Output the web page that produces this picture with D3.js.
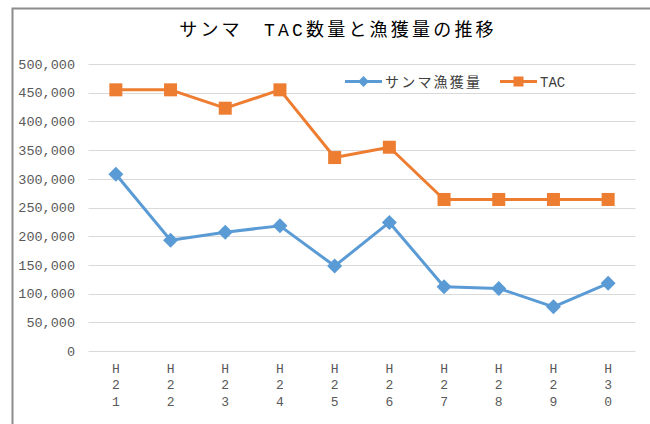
<!DOCTYPE html>
<html>
<head>
<meta charset="utf-8">
<script src="https://cdn.jsdelivr.net/npm/d3@7"></script>
<style>
  html, body { margin: 0; padding: 0; background: #fff; }
  svg { display: block; }
  text { font-family: "Liberation Mono", "Noto Sans CJK JP", monospace; }
</style>
</head>
<body>
<svg id="chart" width="650" height="424"></svg>
<script>
// Fiscal years (Heisei era)
const years = ["H21", "H22", "H23", "H24", "H25", "H26", "H27", "H28", "H29", "H30"];
// Saury catch (tonnes)
const catchValues = [308000, 193000, 207000, 218000, 148000, 224000, 112000, 109000, 77000, 118000];
// Total allowable catch (tonnes)
const tacValues = [455000, 455000, 423000, 455000, 337000, 355000, 264000, 264000, 264000, 264000];
const yTicks = [0, 50000, 100000, 150000, 200000, 250000, 300000, 350000, 400000, 450000, 500000];
const titleText = "サンマ　TAC数量と漁獲量の推移";
const seriesNames = ["サンマ漁獲量", "TAC"];

const blue = "#5B9BD5", orange = "#ED7D31";
const svg = d3.select("#chart");

// chart frame (left & top edges)
svg.append("path")
  .attr("d", "M12.5,424 V8.5 H650")
  .attr("fill", "none").attr("stroke", "#8c8c8c").attr("stroke-width", 2);

const plot = { left: 88.5, right: 635.5, top: 64, bottom: 351 };

const x = d3.scaleBand().domain(years).range([plot.left, plot.right]);
const y = d3.scaleLinear().domain([0, 500000]).range([plot.bottom, plot.top]);

// horizontal gridlines
svg.append("g").selectAll("line").data(yTicks).join("line")
  .attr("x1", plot.left).attr("x2", plot.right)
  .attr("y1", d => Math.round(y(d)) + 0.5).attr("y2", d => Math.round(y(d)) + 0.5)
  .attr("stroke", "#d9d9d9").attr("stroke-width", 1);

// y axis labels
const fmt = d3.format(",");
svg.append("g").selectAll("text").data(yTicks).join("text")
  .attr("x", 75).attr("y", d => y(d)).attr("dy", "0.35em")
  .attr("text-anchor", "end").attr("font-size", 13.5).attr("fill", "#595959")
  .text(d => fmt(d));

// x axis labels, one character per line
const cx = d => x(d) + x.bandwidth() / 2;
const xChars = years.flatMap(yr => yr.split("").map((c, i) => ({ yr, c, i })));
svg.append("g").selectAll("text").data(xChars).join("text")
  .attr("x", d => cx(d.yr)).attr("y", d => 373 + d.i * 16.3)
  .attr("text-anchor", "middle").attr("font-size", 13).attr("fill", "#595959")
  .text(d => d.c);

const line = d3.line().x((v, i) => cx(years[i])).y(v => y(v));
const diamondPath = s => `M0,${-s} L${s},0 L0,${s} L${-s},0 Z`;

// TAC series
svg.append("path").datum(tacValues)
  .attr("d", line).attr("fill", "none").attr("stroke", orange).attr("stroke-width", 3)
  .attr("stroke-linejoin", "round");
svg.append("g").selectAll("rect").data(tacValues).join("rect")
  .attr("x", (v, i) => cx(years[i]) - 6.5).attr("y", v => y(v) - 6.5)
  .attr("width", 13).attr("height", 13).attr("fill", orange);

// catch series
svg.append("path").datum(catchValues)
  .attr("d", line).attr("fill", "none").attr("stroke", blue).attr("stroke-width", 3)
  .attr("stroke-linejoin", "round");
svg.append("g").selectAll("path").data(catchValues).join("path")
  .attr("d", diamondPath(7.5))
  .attr("transform", (v, i) => `translate(${cx(years[i])},${y(v)})`)
  .attr("fill", blue);

// title
svg.append("text").attr("x", 338).attr("y", 36)
  .attr("text-anchor", "middle").attr("font-size", 18).attr("letter-spacing", 3.2)
  .attr("fill", "#000")
  .text(titleText);

// legend
const lg = svg.append("g");
const legendItems = [
  { name: seriesNames[0], color: blue, x0: 345, shape: "diamond", spacing: 2.2 },
  { name: seriesNames[1], color: orange, x0: 500, shape: "square", spacing: 0 }
];
legendItems.forEach(it => {
  const ly = 81.5;
  lg.append("line").attr("x1", it.x0).attr("x2", it.x0 + 37)
    .attr("y1", ly).attr("y2", ly).attr("stroke", it.color).attr("stroke-width", 3);
  if (it.shape === "diamond") {
    lg.append("path").attr("d", diamondPath(5.5))
      .attr("transform", `translate(${it.x0 + 18.5},${ly})`).attr("fill", it.color);
  } else {
    lg.append("rect").attr("x", it.x0 + 18.5 - 5).attr("y", ly - 5)
      .attr("width", 10).attr("height", 10).attr("fill", it.color);
  }
  lg.append("text").attr("x", it.x0 + 40).attr("y", ly).attr("dy", "0.36em")
    .attr("font-size", 14).attr("letter-spacing", it.spacing)
    .attr("fill", "#404040").text(it.name);
});
</script>
</body>
</html>
